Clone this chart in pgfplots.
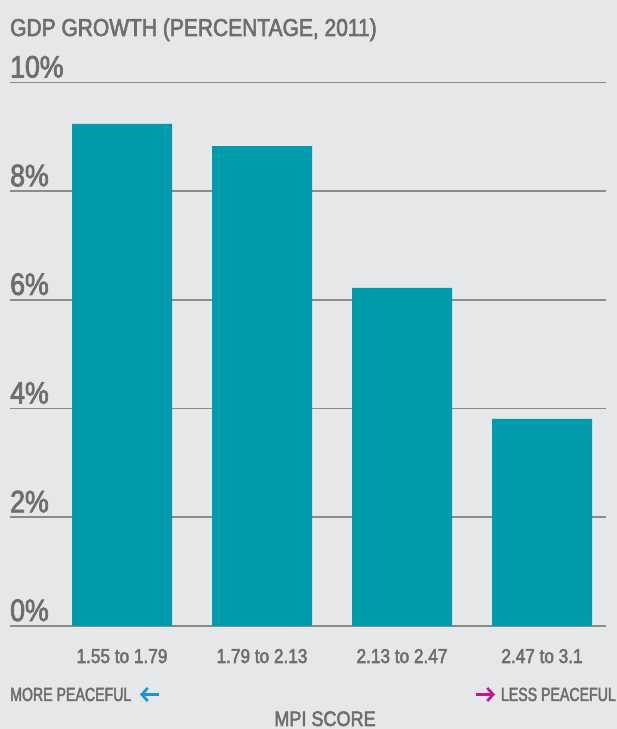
\documentclass[border=0pt]{standalone}
\usepackage{fontspec}
\usepackage{pgfplots}
\pgfplotsset{compat=1.18}
\usetikzlibrary{arrows.meta}
\setmainfont{Liberation Sans}
\newfontfamily\cond{Liberation Sans}[FakeStretch=0.86,FakeBold=2.5]
\newfontfamily\condn{Liberation Sans}[FakeStretch=0.745,FakeBold=2.5]
\definecolor{bgc}{HTML}{E6E7E8}
\definecolor{barc}{HTML}{009CAE}
\definecolor{txtc}{HTML}{6D6E70}
\definecolor{gridc}{HTML}{8A8B8D}
\definecolor{bluec}{HTML}{1E8FD8}
\definecolor{magc}{HTML}{C4168F}
\begin{document}
\begin{tikzpicture}[x=1pt,y=1pt]
\fill[bgc] (0,0) rectangle (617,729);
\begin{axis}[
  at={(10pt,103pt)}, anchor=south west,
  scale only axis, width=596pt, height=543.5pt,
  xmin=-0.8, xmax=3.457, ymin=0, ymax=10,
  axis line style={draw=none},
  major tick length=0pt,
  ymajorgrids, major grid style={draw=gridc, line width=1.6pt},
  ytick={0,2,4,6,8,10},
  /pgf/number format/assume math mode=true,
  yticklabel={\pgfmathprintnumber{\tick}\%},
  yticklabel style={anchor=base west, inner sep=0pt, yshift=5pt, text=txtc, font=\cond\fontsize{31}{31}\selectfont},
  xtick={0,1,2,3},
  xticklabels={1.55 to 1.79, 1.79 to 2.13, 2.13 to 2.47, 2.47 to 3.1},
  xticklabel style={anchor=base, inner sep=0pt, yshift=-37pt, text=txtc, font=\cond\fontsize{20}{20}\selectfont},
  ybar, bar width=100pt,
]
\addplot[fill=barc, draw=none] coordinates {(0,9.24) (1,8.83) (2,6.22) (3,3.81)};
\end{axis}
\node[anchor=base west, inner sep=0pt, text=txtc, font=\cond\fontsize{24.4}{24.4}\selectfont] at (10,693) {GDP GROWTH (PERCENTAGE, 2011)};
\node[anchor=base west, inner sep=0pt, text=txtc, font=\condn\fontsize{19}{19}\selectfont] at (10,28) {MORE PEACEFUL};
\draw[bluec, line width=2.6pt, -{Straight Barb[length=6pt,width=13pt]}] (159,34.5) -- (140,34.5);
\draw[magc, line width=2.6pt, -{Straight Barb[length=6pt,width=13pt]}] (476,34.5) -- (495,34.5);
\node[anchor=base east, inner sep=0pt, text=txtc, font=\condn\fontsize{19}{19}\selectfont] at (616,28) {LESS PEACEFUL};
\node[anchor=base, inner sep=0pt, text=txtc, font=\cond\fontsize{21}{21}\selectfont] at (325,3) {MPI SCORE};
\pgfresetboundingbox
\path[use as bounding box] (0,0) rectangle (617,729);
\end{tikzpicture}
\end{document}
